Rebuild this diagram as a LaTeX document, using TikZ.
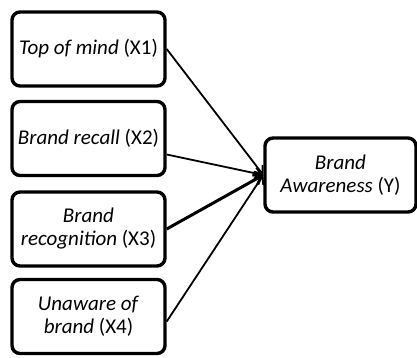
\documentclass[tikz,border=0pt]{standalone}
\usepackage{fontspec}
\setmainfont{Carlito}
\usetikzlibrary{positioning, arrows.meta}
\begin{document}
\begin{tikzpicture}[x=1pt, y=-1pt, >={Straight Barb[length=7pt, width=11pt]},
   box/.style={draw, line width=3.4pt, rounded corners=8pt, minimum width=153pt, minimum height=74pt, align=center, inner sep=2pt, font=\fontsize{21}{23}\selectfont}]

\useasboundingbox (0,0) rectangle (417,358);

\node[box] (x1) at (88.5,49)    {\textit{Top of mind} (X1)};
\node[box] (x2) at (88.5,138.5) {\textit{Brand recall} (X2)};
\node[box] (x3) at (88.5,229)   {\textit{Brand}\\ \textit{recognition} (X3)};
\node[box] (x4) at (88.5,316.5) {\textit{Unaware of}\\ \textit{brand} (X4)};

\node[box, minimum width=151pt] (y) at (340.5,175) {\textit{Brand}\\ \textit{Awareness} (Y)};

\draw[->, line width=1.8pt] (x1.east) -- (y.west);
\draw[->, line width=1.8pt] ([yshift=-16pt]x2.east) -- (y.west);
\draw[->, line width=3pt] (x3.east) -- (y.west);
\draw[->, line width=1.8pt] ([yshift=-5pt]x4.east) -- (y.west);

\end{tikzpicture}
\end{document}
